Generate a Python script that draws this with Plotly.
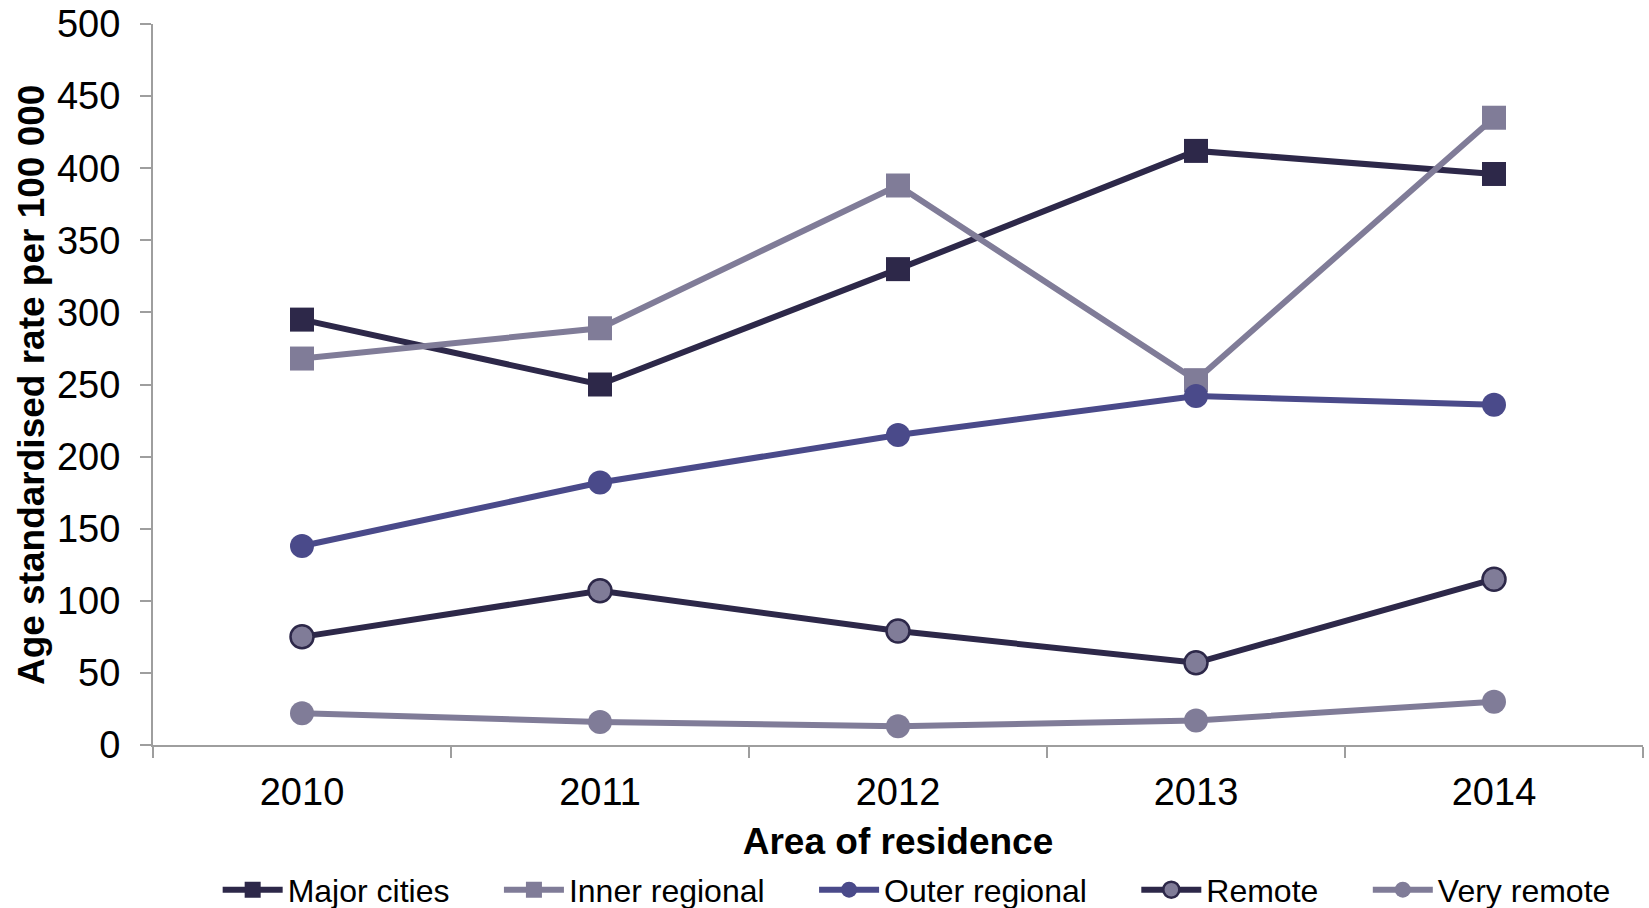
import plotly.graph_objects as go

years = ["2010", "2011", "2012", "2013", "2014"]
major_cities = [295, 250, 330, 412, 396]
inner_regional = [268, 289, 388, 253, 435]
outer_regional = [138, 182, 215, 242, 236]
remote = [75, 107, 79, 57, 115]
very_remote = [22, 16, 13, 17, 30]

DARK = "#2D2849"
GREY = "#807C98"
BLUE = "#4A4A8A"
FONT = "Liberation Sans, Arial, sans-serif"
NB = "\u00a0"
LW = 6

fig = go.Figure()
fig.add_trace(go.Scatter(x=years, y=major_cities, name="Major cities" + NB * 5, mode="lines+markers",
                         line=dict(color=DARK, width=LW),
                         marker=dict(symbol="square", size=24, color=DARK)))
fig.add_trace(go.Scatter(x=years, y=inner_regional, name="Inner regional" + NB * 5, mode="lines+markers",
                         line=dict(color=GREY, width=LW),
                         marker=dict(symbol="square", size=24, color=GREY)))
fig.add_trace(go.Scatter(x=years, y=outer_regional, name="Outer regional" + NB * 5, mode="lines+markers",
                         line=dict(color=BLUE, width=LW),
                         marker=dict(symbol="circle", size=24, color=BLUE)))
fig.add_trace(go.Scatter(x=years, y=remote, name="Remote" + NB * 5, mode="lines+markers",
                         line=dict(color=DARK, width=LW),
                         marker=dict(symbol="circle", size=23, color=GREY,
                                     line=dict(color=DARK, width=2.5))))
fig.add_trace(go.Scatter(x=years, y=very_remote, name="Very remote", mode="lines+markers",
                         line=dict(color=GREY, width=LW),
                         marker=dict(symbol="circle", size=24, color=GREY)))

fig.update_layout(
    width=1649, height=908,
    margin=dict(l=153, r=6, t=24, b=163),
    plot_bgcolor="white", paper_bgcolor="white",
    font=dict(family=FONT, size=38, color="black"),
    showlegend=True,
    legend=dict(orientation="h", xref="container", yref="container",
                x=0.132, xanchor="left", y=0.02, yanchor="middle",
                font=dict(size=32, family=FONT), itemwidth=60,
                bgcolor="rgba(0,0,0,0)"),
    annotations=[dict(text="<b>Age standardised rate per 100 000</b>", textangle=-90,
                      xref="paper", yref="paper", x=-0.0815, y=0.5,
                      xanchor="center", yanchor="middle", showarrow=False,
                      font=dict(size=37, family=FONT, color="black"))],
)
fig.update_xaxes(
    type="category", range=[-0.5, 4.5], automargin=False,
    showline=True, linecolor="#9E9E9E", linewidth=2,
    ticks="outside", tickson="boundaries", ticklen=11, tickcolor="#9E9E9E", tickwidth=2,
    showgrid=False, zeroline=False,
    tickfont=dict(size=38, family=FONT), ticklabelstandoff=12,
    title=dict(text="<b>Area of residence</b>", font=dict(size=37, family=FONT), standoff=22),
)
fig.update_yaxes(
    range=[0, 500], dtick=50, tick0=0, automargin=False,
    showline=True, linecolor="#9E9E9E", linewidth=2,
    ticks="outside", ticklen=11, tickcolor="#9E9E9E", tickwidth=2,
    showgrid=False, zeroline=False,
    tickfont=dict(size=38, family=FONT), ticklabelstandoff=12,
)

fig.write_html("out.html")
